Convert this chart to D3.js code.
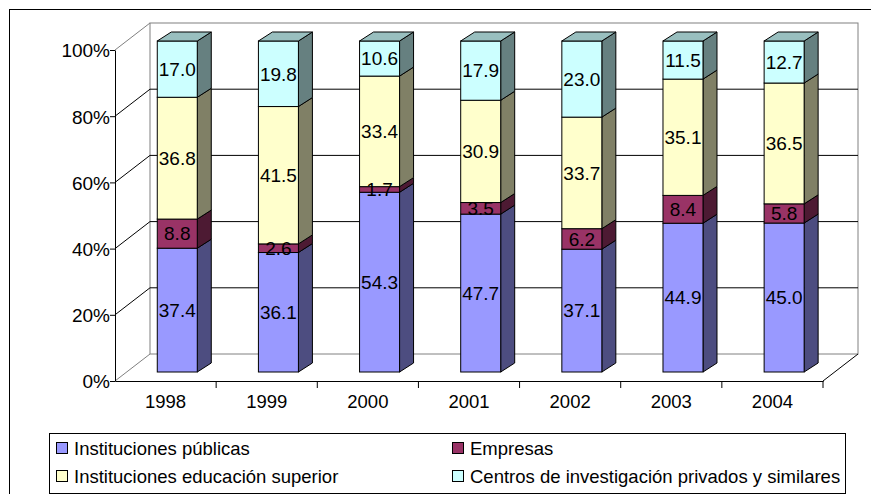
<!DOCTYPE html>
<html>
<head>
<meta charset="utf-8">
<script src="https://cdn.jsdelivr.net/npm/d3@7"></script>
<style>
  body { margin: 0; background: #fff; }
  text { font-family: "Liberation Sans", Arial, sans-serif; fill: #000; }
</style>
</head>
<body>
<svg id="chart" width="871" height="494"></svg>
<script>
// datos (% por año)
const years = ["1998", "1999", "2000", "2001", "2002", "2003", "2004"];
const publicas = [37.4, 36.1, 54.3, 47.7, 37.1, 44.9, 45.0];
const empresas = [8.8, 2.6, 1.7, 3.5, 6.2, 8.4, 5.8];
const educacion = [36.8, 41.5, 33.4, 30.9, 33.7, 35.1, 36.5];
const centros = [17.0, 19.8, 10.6, 17.9, 23.0, 11.5, 12.7];
const seriesNames = ["Instituciones públicas", "Empresas", "Instituciones educación superior", "Centros de investigación privados y similares"];
const yTicks = [0, 20, 40, 60, 80, 100];

// colores: frente, lado, tapa
const colFront = ["#9999ff", "#993366", "#ffffcc", "#ccffff"];
const colSide  = ["#4d4d80", "#4d1a33", "#808066", "#668080"];
const colTop   = ["#7373bf", "#73264d", "#bfbf99", "#99bfbf"];

const svg = d3.select("#chart");
const X0 = 115, X1 = 823, Y0 = 381, Y1 = 50;
const wall = [35, -27];      // profundidad de las paredes
const face = [11.7, -9];     // desplazamiento de la cara frontal de las barras
const depth = [14, -9];      // profundidad de las barras

const x = d3.scaleBand().domain(years).range([X0, X1]).padding(0);
const y = d3.scaleLinear().domain([0, 100]).range([Y0, Y1]);
const barW = 40;

// marco exterior
svg.append("rect").attr("x", 9.5).attr("y", 9.5).attr("width", 900).attr("height", 520)
  .attr("fill", "none").attr("stroke", "#000");

// ########## PAREDES ##########
const walls = svg.append("g");
walls.append("rect")
  .attr("x", X0 + wall[0]).attr("y", Y1 + wall[1])
  .attr("width", X1 - X0).attr("height", Y0 - Y1)
  .attr("fill", "#fff").attr("stroke", "#808080");

// líneas de división
yTicks.filter(v => v > 0 && v < 100).forEach(v => {
  walls.append("line")
    .attr("x1", X0 + wall[0]).attr("x2", X1 + wall[0])
    .attr("y1", y(v) + wall[1]).attr("y2", y(v) + wall[1])
    .attr("stroke", "#000");
});
yTicks.forEach(v => {
  walls.append("line")
    .attr("x1", X0).attr("y1", y(v))
    .attr("x2", X0 + wall[0]).attr("y2", y(v) + wall[1])
    .attr("stroke", (v === 0 || v === 100) ? "#808080" : "#000");
});
walls.append("line")
  .attr("x1", X1).attr("y1", Y0)
  .attr("x2", X1 + wall[0]).attr("y2", Y0 + wall[1])
  .attr("stroke", "#000");

// ########## EJES ##########
svg.append("g")
  .attr("transform", `translate(${X0},0)`)
  .call(d3.axisLeft(y).tickValues(yTicks).tickFormat(d => d + "%").tickSize(5).tickPadding(0).tickSizeOuter(0))
  .call(g => g.select(".domain").attr("stroke", "#000"))
  .call(g => g.selectAll("text").style("font-size", "19px").attr("dy", "0.36em"));

const xAxis = svg.append("g")
  .attr("transform", `translate(0,${Y0})`)
  .call(d3.axisBottom(x).tickSize(0).tickPadding(14).tickSizeOuter(0))
  .call(g => g.selectAll("text").style("font-size", "18.5px"));

xAxis.selectAll("line.sep")
  .data(years)
  .enter()
  .append("line")
  .attr("class", "sep")
  .attr("x1", d => x(d) + x.bandwidth()).attr("x2", d => x(d) + x.bandwidth())
  .attr("y1", 0).attr("y2", 7)
  .attr("stroke", "#000");

// ########## BARRAS ##########
const stackData = years.map((yr, i) => ({
  year: yr, v: [publicas[i], empresas[i], educacion[i], centros[i]]
}));

const pt = p => p.join(",");
const bars = svg.append("g");
stackData.forEach(d => {
  const total = d3.sum(d.v);
  const xl = x(d.year) + (x.bandwidth() - barW) / 2 + face[0];
  const xr = xl + barW;
  let acc = 0;
  d.v.forEach((val, k) => {
    const yb = y(acc / total * 100) + face[1];
    acc += val;
    const yt = y(acc / total * 100) + face[1];
    const g = bars.append("g");
    g.append("polygon")
      .attr("points", [[xr, yb], [xr + depth[0], yb + depth[1]], [xr + depth[0], yt + depth[1]], [xr, yt]].map(pt).join(" "))
      .attr("fill", colSide[k]).attr("stroke", "#000").attr("stroke-linejoin", "round");
    g.append("rect")
      .attr("x", xl).attr("y", yt).attr("width", barW).attr("height", yb - yt)
      .attr("fill", colFront[k]).attr("stroke", "#000");
    if (k === d.v.length - 1) {
      g.append("polygon")
        .attr("points", [[xl, yt], [xl + depth[0], yt + depth[1]], [xr + depth[0], yt + depth[1]], [xr, yt]].map(pt).join(" "))
        .attr("fill", colTop[k]).attr("stroke", "#000").attr("stroke-linejoin", "round");
    }
    d["mid" + k] = (yb + yt) / 2;
  });
  d.cx = (xl + xr) / 2;
});

// etiquetas de datos
stackData.forEach(d => {
  d.v.forEach((val, k) => {
    svg.append("text")
      .attr("x", d.cx).attr("y", d["mid" + k]).attr("dy", "0.36em")
      .attr("text-anchor", "middle")
      .style("font-size", "19px")
      .text(val.toFixed(1));
  });
});

// ########## LEYENDA ##########
const legend = svg.append("g");
legend.append("rect")
  .attr("x", 49.5).attr("y", 433.5).attr("width", 796).attr("height", 60)
  .attr("fill", "#fff").attr("stroke", "#000");

const legPos = [[56, 448], [452, 448], [56, 476], [452, 476]];
seriesNames.forEach((name, k) => {
  const [lx, ly] = legPos[k];
  legend.append("rect")
    .attr("x", lx + 0.5).attr("y", ly - 5.5).attr("width", 11).attr("height", 11)
    .attr("fill", colFront[k]).attr("stroke", "#000");
  legend.append("text")
    .attr("x", lx + 18).attr("y", ly).attr("dy", "0.36em")
    .style("font-size", "18.5px")
    .text(name);
});
</script>
</body>
</html>
